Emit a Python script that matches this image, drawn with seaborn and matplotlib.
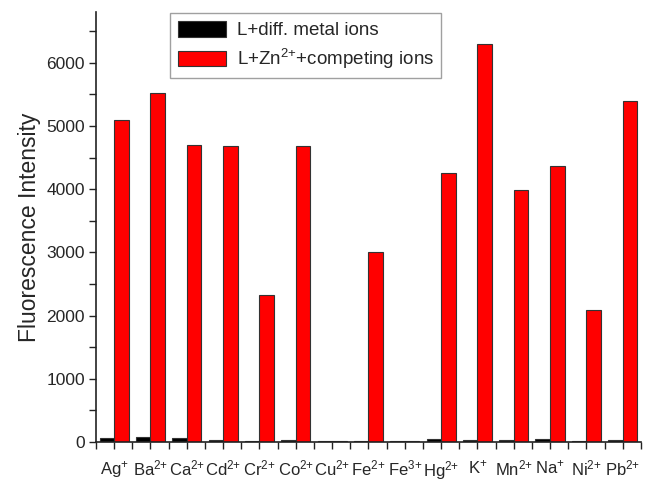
import matplotlib
matplotlib.use("Agg")
import matplotlib.pyplot as plt
from matplotlib.ticker import MultipleLocator
import seaborn as sns
import pandas as pd

ions = ["Ag$^{{+}}$", "Ba$^{2{+}}$", "Ca$^{2{+}}$", "Cd$^{2{+}}$", "Cr$^{2{+}}$",
        "Co$^{2{+}}$", "Cu$^{2{+}}$", "Fe$^{2{+}}$", "Fe$^{3{+}}$", "Hg$^{2{+}}$",
        "K$^{{+}}$", "Mn$^{2{+}}$", "Na$^{{+}}$", "Ni$^{2{+}}$", "Pb$^{2{+}}$"]
metal_only = [60, 80, 65, 30, 15, 30, 10, 10, 10, 55, 35, 30, 45, 20, 30]
zn_competing = [5100, 5520, 4700, 4680, 2320, 4680, 10, 3010, 10, 4260, 6290, 3990,
                4360, 2090, 5390]
series_names = ["L+diff. metal ions", "L+Zn$^{2{+}}$+competing ions"]

df = pd.DataFrame({
    "ion": ions * 2,
    "value": metal_only + zn_competing,
    "series": [series_names[0]] * len(ions) + [series_names[1]] * len(ions),
})

sns.set_theme(style="white")
plt.rcParams["font.family"] = ["Liberation Sans", "DejaVu Sans"]
plt.rcParams["mathtext.fontset"] = "custom"
plt.rcParams["mathtext.rm"] = "Liberation Sans"
plt.rcParams["mathtext.it"] = "Liberation Sans"

fig = plt.figure(figsize=(6.46, 4.86), dpi=100)
ax = fig.add_axes([0.1486, 0.0905, 0.8434, 0.8845])

sns.barplot(data=df, x="ion", y="value", hue="series", order=ions,
            hue_order=series_names, palette=["#000000", "#ff0000"],
            width=0.8, edgecolor="#333333", linewidth=0.8, saturation=1,
            ax=ax)

ax.set_xlim(-0.5, 14.5)
ax.set_ylim(0, 6800)
ax.set_xlabel("")
ax.set_ylabel("Fluorescence Intensity", fontsize=16.5, labelpad=4)

ax.yaxis.set_major_locator(MultipleLocator(1000))
ax.yaxis.set_minor_locator(MultipleLocator(500))
ax.xaxis.set_minor_locator(MultipleLocator(0.5))
ax.tick_params(axis="both", which="both", direction="out", length=5, width=1,
               color="#222222", labelsize=12, bottom=True, left=True)
ax.tick_params(axis="y", which="major", labelsize=12.5, pad=3)
ax.tick_params(axis="x", which="major", pad=7)

for side in ["top", "right"]:
    ax.spines[side].set_visible(False)
for side in ["left", "bottom"]:
    ax.spines[side].set_color("#222222")
    ax.spines[side].set_linewidth(1.2)

leg = ax.legend(loc="upper left", bbox_to_anchor=(0.136, 0.997),
                fontsize=13.5, frameon=True, fancybox=False, edgecolor="#888888",
                handlelength=2.6, handleheight=0.9, borderpad=0.4,
                labelspacing=0.4, handletextpad=0.55, borderaxespad=0)
leg.get_frame().set_linewidth(1.0)

fig.savefig("out.png", dpi=100)
